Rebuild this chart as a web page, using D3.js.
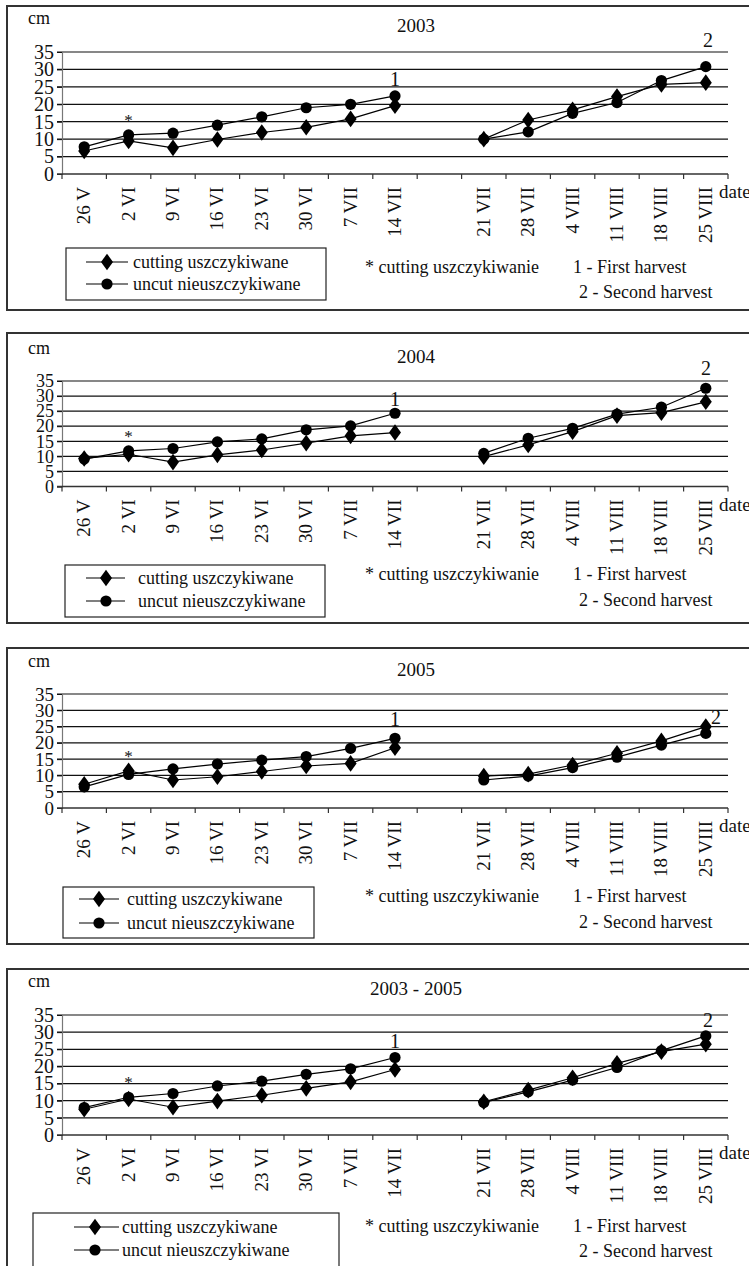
<!DOCTYPE html>
<html>
<head>
<meta charset="utf-8">
<script src="https://cdn.jsdelivr.net/npm/d3@7"></script>
<style>
  html, body { margin: 0; padding: 0; background: #fff; }
  svg { display: block; }
  svg text { font-family: "Liberation Serif", "DejaVu Serif", serif !important; fill: #111; }
</style>
</head>
<body>
<svg id="chart" width="749" height="1266"></svg>
<script>
// ---------- data ----------
const datesFirst = ["26 V", "2 VI", "9 VI", "16 VI", "23 VI", "30 VI", "7 VII", "14 VII"];
const datesSecond = ["21 VII", "28 VII", "4 VIII", "11 VIII", "18 VIII", "25 VIII"];
const yTicks = [0, 5, 10, 15, 20, 25, 30, 35];
const panelTitles = ["2003", "2004", "2005", "2003 - 2005"];
const seriesNames = ["cutting uszczykiwane", "uncut nieuszczykiwane"];
const noteCutting = "* cutting uszczykiwanie";
const noteFirst = "1 - First harvest";
const noteSecond = "2 - Second harvest";

const cutting2003 = [6.6, 9.5, 7.5, 9.9, 11.9, 13.4, 15.8, 19.6, 10.0, 15.5, 18.4, 22.2, 25.7, 26.2];
const uncut2003   = [7.8, 11.2, 11.7, 14.0, 16.4, 19.0, 20.0, 22.4, 10.0, 12.1, 17.4, 20.5, 26.8, 30.8];
const cutting2004 = [9.3, 10.7, 8.1, 10.5, 12.1, 14.4, 16.8, 17.9, 9.9, 13.8, 18.2, 23.5, 24.5, 28.1];
const uncut2004   = [9.1, 11.8, 12.6, 14.8, 15.8, 18.8, 20.1, 24.3, 11.0, 16.0, 19.3, 24.0, 26.3, 32.6];
const cutting2005 = [7.3, 11.4, 8.6, 9.6, 11.2, 12.9, 13.7, 18.5, 9.8, 10.4, 13.2, 16.8, 20.6, 25.0];
const uncut2005   = [6.5, 10.3, 12.0, 13.5, 14.7, 15.8, 18.3, 21.4, 8.6, 9.8, 12.4, 15.6, 19.3, 22.9];
const cuttingAvg  = [7.5, 10.5, 8.1, 9.9, 11.6, 13.6, 15.5, 19.1, 9.7, 13.1, 16.7, 20.9, 24.3, 26.5];
const uncutAvg    = [8.0, 11.0, 12.1, 14.3, 15.7, 17.7, 19.3, 22.6, 9.5, 12.6, 16.0, 19.7, 24.6, 28.9];

const cuttingSeries = [cutting2003, cutting2004, cutting2005, cuttingAvg];
const uncutSeries = [uncut2003, uncut2004, uncut2005, uncutAvg];

// ---------- layout ----------
const GAP = "__gap__";
const slots = [...datesFirst, GAP, ...datesSecond];
const allDates = [...datesFirst, ...datesSecond];

const layouts = [
  { boxTop: 6,   boxBottom: 310,  cmY: 24,   titleY: 32,   y35: 52,   y0: 174,  yFont: 20, legTop: 248,  legBottom: 300,  legX0: 66, legX1: 326, lineX0: 86, lineX1: 128, markX: 107, textX: 133, rows: [262, 284], n1: 273, n2: 298, h1Y: 86,   h2Y: 47,   h2X: 708 },
  { boxTop: 333, boxBottom: 623,  cmY: 354,  titleY: 363,  y35: 381,  y0: 486.5,yFont: 18, legTop: 565,  legBottom: 617,  legX0: 65, legX1: 325, lineX0: 86, lineX1: 125, markX: 106, textX: 138, rows: [578, 601], n1: 580, n2: 606, h1Y: 406,  h2Y: 375,  h2X: 706 },
  { boxTop: 648, boxBottom: 944,  cmY: 667,  titleY: 676,  y35: 694,  y0: 808,  yFont: 19, legTop: 887,  legBottom: 938,  legX0: 63, legX1: 314, lineX0: 79, lineX1: 119, markX: 99,  textX: 127, rows: [899, 923], n1: 902, n2: 928, h1Y: 726,  h2Y: 724,  h2X: 716 },
  { boxTop: 969, boxBottom: 1300, cmY: 987,  titleY: 995,  y35: 1015, y0: 1135, yFont: 20, legTop: 1213, legBottom: 1290, legX0: 33, legX1: 339, lineX0: 74, lineX1: 119, markX: 95,  textX: 122, rows: [1227, 1250], n1: 1232, n2: 1257, h1Y: 1048, h2Y: 1027, h2X: 708 }
];

const svg = d3.select("#chart");
const xLeft = 62, xRight = 728;
const SERIF = '"Liberation Serif", "DejaVu Serif", serif';

const x = d3.scaleBand().domain(slots).range([xLeft, xRight]).paddingInner(0).paddingOuter(0);
const cx = d => x(d) + x.bandwidth() / 2;

function drawMarker(g, kind, px, py) {
  if (kind === 0) {
    g.append("path").attr("d", d3.symbol().type(d3.symbolDiamond).size(80)())
      .attr("transform", `translate(${px},${py}) scale(1.25,1)`).attr("fill", "#000");
  } else {
    g.append("circle").attr("cx", px).attr("cy", py).attr("r", 5.6).attr("fill", "#000");
  }
}

function txt(g, size) {
  return g.append("text").attr("font-family", SERIF).style("font-family", SERIF).style("font-size", size + "px");
}

layouts.forEach((L, pi) => {
  const g = svg.append("g");
  const y = d3.scaleLinear().domain([0, 35]).range([L.y0, L.y35]);

  // panel frame
  g.append("rect").attr("x", 7).attr("y", L.boxTop).attr("width", 760).attr("height", L.boxBottom - L.boxTop)
    .attr("fill", "none").attr("stroke", "#333").attr("stroke-width", 2);

  // gridlines
  g.append("g").selectAll("line").data(yTicks.filter(t => t > 0)).join("line")
    .attr("x1", xLeft - 5).attr("x2", xRight).attr("y1", d => y(d)).attr("y2", d => y(d))
    .attr("stroke", "#111").attr("stroke-width", 1.2);

  // y axis
  const yAxis = g.append("g").attr("transform", `translate(${xLeft},0)`)
    .call(d3.axisLeft(y).tickValues(yTicks).tickSize(5).tickPadding(3).tickFormat(d3.format("d")));
  yAxis.attr("font-family", SERIF);
  yAxis.select(".domain").attr("stroke", "#777").attr("stroke-width", 1.2);
  yAxis.selectAll(".tick line").attr("stroke", "#111");
  yAxis.selectAll("text").style("font-family", SERIF).style("font-size", L.yFont + "px").attr("fill", "#111");

  // x axis
  g.append("line").attr("x1", xLeft - 5).attr("x2", xRight).attr("y1", L.y0).attr("y2", L.y0)
    .attr("stroke", "#333").attr("stroke-width", 1.3);
  const boundaries = slots.map(s => x(s)).concat([xRight]);
  g.append("g").selectAll("line").data(boundaries).join("line")
    .attr("x1", d => d).attr("x2", d => d).attr("y1", L.y0).attr("y2", L.y0 + 5)
    .attr("stroke", "#333").attr("stroke-width", 1.2);

  g.append("g").selectAll("text").data(allDates).join("text")
    .attr("transform", d => `translate(${cx(d) + 6},${L.y0 + 13}) rotate(-90)`)
    .attr("text-anchor", "end").style("font-family", SERIF).style("font-size", "19px").text(d => d);

  // labels
  txt(g, 18).attr("x", 28).attr("y", L.cmY).text("cm");
  txt(g, 19).attr("x", 416).attr("y", L.titleY).attr("text-anchor", "middle").text(panelTitles[pi]);
  txt(g, 19).attr("x", 719).attr("y", L.y0 + 24).text("date");

  // series
  [cuttingSeries[pi], uncutSeries[pi]].forEach((vals, si) => {
    const pts = allDates.map((d, i) => ({ d, v: vals[i] }));
    const seg1 = pts.slice(0, datesFirst.length);
    const seg2 = pts.slice(datesFirst.length);
    const line = d3.line().x(p => cx(p.d)).y(p => y(p.v));
    [seg1, seg2].forEach(seg => {
      g.append("path").attr("d", line(seg)).attr("fill", "none").attr("stroke", "#000").attr("stroke-width", 1.2);
    });
    pts.forEach(p => drawMarker(g, si, cx(p.d), y(p.v)));
  });

  // annotations
  txt(g, 17).attr("x", cx("2 VI")).attr("y", y(Math.max(cuttingSeries[pi][1], uncutSeries[pi][1])) - 9)
    .attr("text-anchor", "middle").text("*");
  txt(g, 20).attr("x", cx("14 VII")).attr("y", L.h1Y).attr("text-anchor", "middle").text("1");
  txt(g, 20).attr("x", L.h2X).attr("y", L.h2Y).attr("text-anchor", "middle").text("2");

  // legend
  g.append("rect").attr("x", L.legX0).attr("y", L.legTop).attr("width", L.legX1 - L.legX0).attr("height", L.legBottom - L.legTop)
    .attr("fill", "#fff").attr("stroke", "#222").attr("stroke-width", 1.2);
  seriesNames.forEach((name, si) => {
    const ry = L.rows[si];
    g.append("line").attr("x1", L.lineX0).attr("x2", L.lineX1).attr("y1", ry).attr("y2", ry).attr("stroke", "#000").attr("stroke-width", 1.2);
    drawMarker(g, si, L.markX, ry);
    txt(g, 18).attr("x", L.textX).attr("y", ry + 6).text(name);
  });

  // notes
  txt(g, 18).attr("x", 365).attr("y", L.n1).text(noteCutting);
  txt(g, 18).attr("x", 573).attr("y", L.n1).text(noteFirst);
  txt(g, 18).attr("x", 579).attr("y", L.n2).text(noteSecond);
});
</script>
</body>
</html>
